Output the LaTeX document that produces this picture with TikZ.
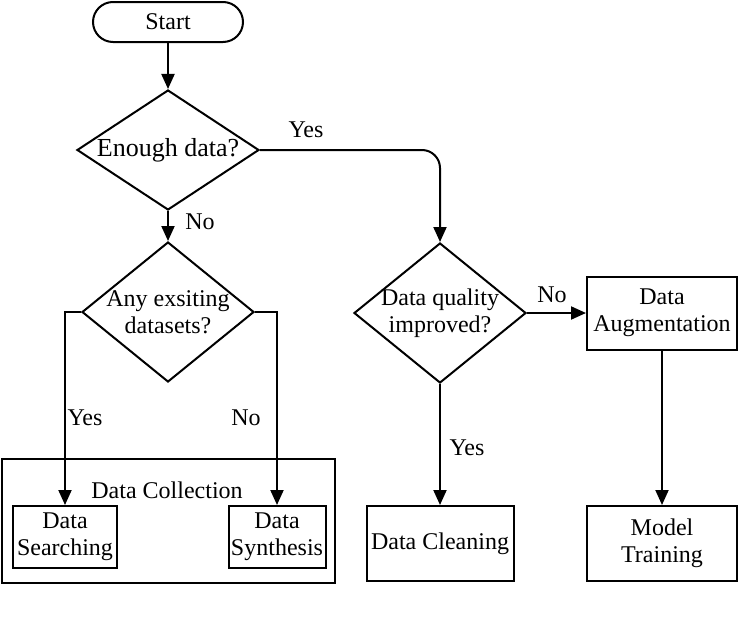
\documentclass[tikz,border=0pt]{standalone}
\usepackage{fontspec}
\setmainfont{Liberation Serif}
\usepackage{tikz}
\usetikzlibrary{shapes.geometric,arrows.meta}

\begin{document}
\begin{tikzpicture}[x=0.5pt, y=-0.5pt, line width=1pt,
	font=\fontsize{12}{13.5}\selectfont,
	box/.style={draw, rectangle, inner sep=0pt, align=center},
	decision/.style={draw, diamond, inner sep=0pt},
	flow/.style={-{Triangle[length=7.5pt, width=6.5pt]}},
	lbl/.style={inner sep=0pt}]
	\useasboundingbox (0,0) rectangle (738,621);
	\node[box, rounded corners=10pt, minimum width=75pt, minimum height=20pt] (start) at (168,22) {Start};
	\node[decision, minimum width=91pt, minimum height=60pt,
		label={[font=\fontsize{13}{14.5}\selectfont]center:Enough data?}] (enough) at (168,150) {};
	\node[decision, minimum width=86pt, minimum height=70pt,
		label={[align=center]center:Any exsiting\\datasets?}] (anyds) at (168,312) {};
	\node[decision, minimum width=86pt, minimum height=70pt,
		label={[align=center]center:Data quality\\improved?}] (quality) at (440,313) {};
	\node[box, minimum width=166.5pt, minimum height=62pt] (collect) at (168.5,521) {};
	\node[lbl] (collecttitle) at (167,490) {Data Collection};
	\node[box, minimum width=52pt, minimum height=31pt] (search) at (65,537) {Data\\Searching};
	\node[box, minimum width=48.5pt, minimum height=31pt] (synth) at (277,537) {Data\\Synthesis};
	\node[box, minimum width=73.5pt, minimum height=37.5pt] (clean) at (440,543.5) {Data Cleaning};
	\node[box, minimum width=75pt, minimum height=36.5pt] (augment) at (662,313) {Data\\Augmentation};
	\node[box, minimum width=75pt, minimum height=37.5pt] (train) at (662,543.5) {Model\\Training};
	\draw[flow] (start) -- (enough);
	\draw[flow, rounded corners=9pt] (enough.east) -| (quality.north);
	\node[lbl] (yesenough) at (306,130) {Yes};
	\draw[flow] (enough.south) -- (anyds.north);
	\node[lbl] (noenough) at (200,222) {No};
	\draw[flow] (anyds.west) -| (search.north);
	\node[lbl] (yesanyds) at (85,418) {Yes};
	\draw[flow] (anyds.east) -| (synth.north);
	\node[lbl] (noanyds) at (246,418) {No};
	\draw[flow] (quality.east) -- (augment.west);
	\node[lbl] (noquality) at (552,295) {No};
	\draw[flow] (quality.south) -- (clean.north);
	\node[lbl] (yesquality) at (467,448) {Yes};
	\draw[flow] (augment.south) -- (train.north);
\end{tikzpicture}
\end{document}
